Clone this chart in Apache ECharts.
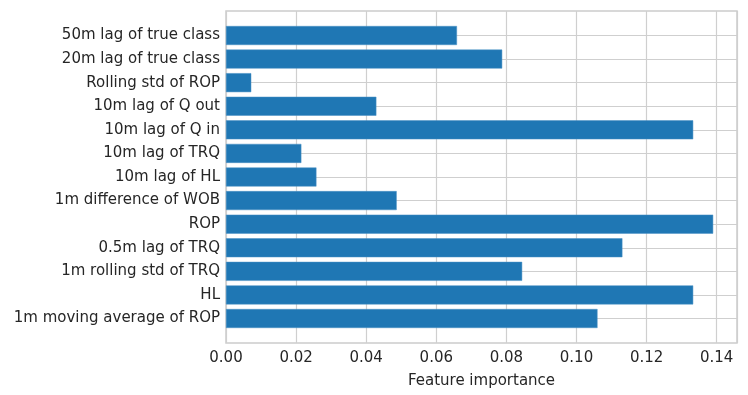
<!DOCTYPE html>
<html>
<head>
<meta charset="utf-8">
<script src="https://cdn.jsdelivr.net/npm/echarts@6/dist/echarts.min.js"></script>
<style>
  html, body { margin: 0; padding: 0; background: #fff; }
  #chart { width: 748px; height: 395px; }
</style>
</head>
<body>
<div id="chart"></div>
<script>
// bottom to top, as in the plot
var features = [
    '1m moving average of ROP',
    'HL',
    '1m rolling std of TRQ',
    '0.5m lag of TRQ',
    'ROP',
    '1m difference of WOB',
    '10m lag of HL',
    '10m lag of TRQ',
    '10m lag of Q in',
    '10m lag of Q out',
    'Rolling std of ROP',
    '20m lag of true class',
    '50m lag of true class'
];
var importance = [0.1060, 0.1333, 0.0845, 0.1131, 0.1390, 0.0487, 0.0258, 0.0215, 0.1333, 0.0429, 0.0072, 0.0788, 0.0659];
var xTicks = [0, 0.02, 0.04, 0.06, 0.08, 0.10, 0.12, 0.14];

var chart = echarts.init(document.getElementById('chart'));
var txt = '#262626';
var gridCol = '#cfcfcf';
var fam = 'DejaVu Sans';
var fs = 15;
var xMax = 0.1458;

var option = {
    animation: false,
    textStyle: { fontFamily: fam },
    grid: [
        // frame + vertical grid lines
        { left: 226, top: 11, width: 511, height: 332, show: true, borderColor: '#cccccc', borderWidth: 1.5, backgroundColor: 'transparent' },
        // bars sit between the category margins
        { left: 226, top: 35.5, width: 511, height: 283 }
    ],
    xAxis: [
        {
            gridIndex: 0, type: 'value', min: xTicks[0], max: xMax, interval: 0.02,
            name: 'Feature importance', nameLocation: 'middle', nameGap: 31,
            nameTextStyle: { color: txt, fontSize: fs, fontFamily: fam },
            axisLine: { show: false }, axisTick: { show: false },
            axisLabel: { color: txt, fontSize: fs, fontFamily: fam, margin: 8, showMaxLabel: false,
                formatter: function (v) { return v.toFixed(2); } },
            splitLine: { show: true, lineStyle: { color: gridCol, width: 1.2 } }
        },
        {
            gridIndex: 1, type: 'value', min: 0, max: xMax, show: false,
            splitLine: { show: false }
        }
    ],
    yAxis: [
        { gridIndex: 0, type: 'value', show: false, splitLine: { show: false } },
        {
            gridIndex: 1, type: 'category', data: features, boundaryGap: false,
            axisLine: { show: false }, axisTick: { show: false },
            axisLabel: { color: txt, fontSize: fs, fontFamily: fam, margin: 6, interval: 0 },
            splitLine: { show: true, interval: 0, lineStyle: { color: gridCol, width: 1.2 } }
        }
    ],
    series: [
        {
            type: 'bar', xAxisIndex: 1, yAxisIndex: 1,
            data: importance, barWidth: 19,
            itemStyle: { color: '#1f77b4', borderColor: '#4a90c4', borderWidth: 0.5 }
        }
    ]
};
chart.setOption(option);
</script>
</body>
</html>
